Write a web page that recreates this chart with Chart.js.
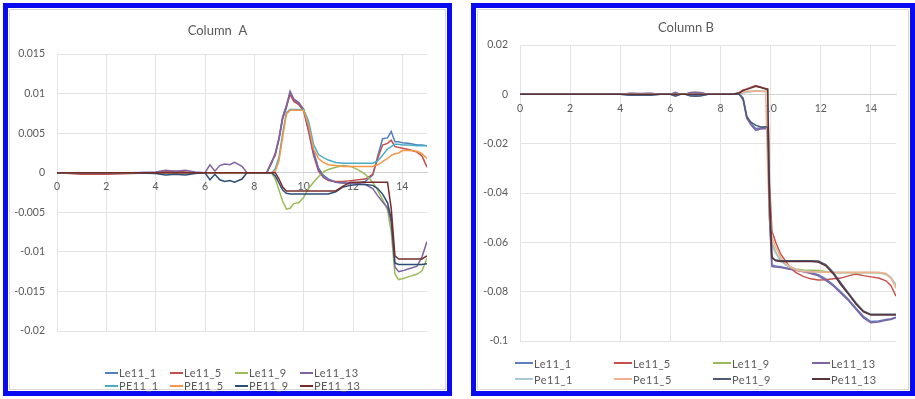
<!DOCTYPE html>
<html>
<head>
<meta charset="utf-8">
<script src="https://cdn.jsdelivr.net/npm/chart.js@4.4.1/dist/chart.umd.min.js"></script>
<style>
  body { margin: 0; background: #fff; width: 915px; height: 399px; overflow: hidden; position: relative; font-family: Lato, "Liberation Sans", sans-serif; }
  .painel { position: absolute; top: 3px; height: 383px; border: 5px solid #0a0af0; background: #fff; }
  #painelA { left: 3px; width: 439px; }
  #painelB { left: 471px; width: 434px; }
  .moldura { position: absolute; left: 1px; top: 1px; right: 1px; bottom: 1px; border: 1px solid #d9d9d9; }
  canvas { position: absolute; left: 0; top: 0; }
  .legenda { position: absolute; display: grid; color: #595959; font-size: 11px; letter-spacing: 0.4px; }
  .item { display: flex; align-items: center; white-space: nowrap; }
  .item span { display: inline-block; height: 2px; margin-right: 1px; }
</style>
</head>
<body>
<div class="painel" id="painelA">
  <div class="moldura"></div>
  <canvas id="chartA" width="438" height="383"></canvas>
  <div class="legenda" id="legendaA" style="left:97px; top:358px; grid-template-columns: repeat(4, 65px); grid-auto-rows: 13px;"></div>
</div>
<div class="painel" id="painelB">
  <div class="moldura"></div>
  <canvas id="chartB" width="434" height="383"></canvas>
  <div class="legenda" id="legendaB" style="left:39px; top:347px; grid-template-columns: repeat(4, 99px); grid-auto-rows: 16px;"></div>
</div>

<script>
// ---- Column A ----
var xA = [0, 1, 2, 3, 4, 4.4, 4.8, 5.2, 5.6, 6.0, 6.2, 6.4, 6.6, 6.8, 7.0, 7.2, 7.5, 7.7, 8.0, 8.5,
  8.7, 8.85, 9.0, 9.15, 9.3, 9.45, 9.6, 9.8, 10.0, 10.2, 10.4, 10.6, 10.8, 11.0, 11.3, 11.6, 11.9, 12.2, 12.5, 12.8,
  13.0, 13.2, 13.4, 13.55, 13.7, 13.85, 14.0, 14.3, 14.6, 14.8, 15.0];

var le11_1A = [0, 0, -0.0001, 0, 0, 0.0001, 0.0001, 0, 0, 0, 0, 0, 0, 0, 0, 0, 0, 0, 0, 0,
  0.0012, 0.0024, 0.0042, 0.0068, 0.0082, 0.0101, 0.0091, 0.0087, 0.0079, 0.0056, 0.0027, 0.0006, -0.0003, -0.0008, -0.0012, -0.0013, -0.0013, -0.0013, -0.0011, -0.0003,
  0.0021, 0.0043, 0.0044, 0.0052, 0.0039, 0.0039, 0.0038, 0.0037, 0.0035, 0.0035, 0.0034];
var le11_5A = [0, -0.0002, -0.0002, -0.0001, 0, 0.0002, 0.0002, 0.0001, 0, 0, 0, 0, 0, 0, 0, 0, 0, 0, 0, 0,
  0.0014, 0.0022, 0.0043, 0.007, 0.0084, 0.0099, 0.009, 0.0086, 0.0078, 0.0052, 0.0022, 0.0002, -0.0006, -0.001, -0.0011, -0.0011, -0.001, -0.0009, -0.0008, -0.0002,
  0.0018, 0.0035, 0.0037, 0.0041, 0.0033, 0.0032, 0.0031, 0.0029, 0.0026, 0.0021, 0.0007];
var le11_9A = [0, 0, 0, 0, 0, 0, 0, 0, 0, 0, 0, 0, 0, 0, 0, 0, 0, 0, 0, 0,
  0, -0.0008, -0.0022, -0.0036, -0.0046, -0.0045, -0.0039, -0.0038, -0.0031, -0.002, -0.0012, -0.0005, 0.0001, 0.0004, 0.0007, 0.0009, 0.0008, 0.0004, -0.0002, -0.0012,
  -0.0022, -0.0034, -0.0047, -0.0075, -0.0128, -0.0135, -0.0134, -0.0131, -0.0128, -0.0124, -0.0108];
var le11_13A = [0, 0, 0, 0, 0.0001, 0.0003, 0.0002, 0.0003, 0.0001, 0, 0.001, 0.0002, 0.0009, 0.0011, 0.001, 0.0013, 0.0008, 0, 0, 0,
  0.0013, 0.0025, 0.0044, 0.0071, 0.0085, 0.0103, 0.0093, 0.0089, 0.008, 0.0054, 0.0025, 0.0004, -0.0005, -0.0009, -0.0012, -0.0013, -0.0014, -0.0014, -0.0015, -0.002,
  -0.0029, -0.0037, -0.0044, -0.0062, -0.0119, -0.0125, -0.0124, -0.0121, -0.0118, -0.0106, -0.0087];
var pe11_1A = [0, 0, 0, 0, 0, 0, 0, 0, 0, 0, 0, 0, 0, 0, 0, 0, 0, 0, 0, 0,
  0, 0.0005, 0.002, 0.005, 0.0076, 0.008, 0.008, 0.008, 0.008, 0.0065, 0.0036, 0.0023, 0.0019, 0.0016, 0.0013, 0.0012, 0.0012, 0.0012, 0.0012, 0.0012,
  0.0015, 0.0022, 0.003, 0.0033, 0.0036, 0.0036, 0.0035, 0.0035, 0.0034, 0.0034, 0.0034];
var pe11_5A = [0, 0, 0, 0, 0, 0, 0, 0, 0, 0, 0, 0, 0, 0, 0, 0, 0, 0, 0, 0,
  0, 0.0002, 0.0015, 0.0045, 0.0074, 0.0079, 0.0079, 0.0079, 0.0079, 0.006, 0.003, 0.0018, 0.0013, 0.001, 0.0009, 0.0008, 0.0008, 0.0008, 0.0008, 0.0008,
  0.001, 0.0014, 0.0018, 0.0022, 0.0024, 0.0025, 0.0028, 0.0028, 0.0027, 0.0024, 0.0018];
var pe11_9A = [0, 0, 0, 0, -0.0001, -0.0003, -0.0002, -0.0003, -0.0001, 0, -0.0009, -0.0002, -0.0009, -0.0011, -0.001, -0.0012, -0.0008, 0, 0, 0,
  0, -0.0004, -0.0013, -0.0022, -0.0026, -0.0027, -0.0027, -0.0027, -0.0027, -0.0027, -0.0027, -0.0027, -0.0027, -0.0027, -0.0024, -0.0018, -0.0016, -0.0015, -0.0015, -0.0016,
  -0.002, -0.0027, -0.0038, -0.0058, -0.0114, -0.0116, -0.0116, -0.0116, -0.0116, -0.0116, -0.0115];
var pe11_13A = [0, 0, 0, 0, 0, 0, 0, 0, 0, 0, 0, 0, 0, 0, 0, 0, 0, 0, 0, 0,
  0, 0, -0.0008, -0.0018, -0.0023, -0.0023, -0.0023, -0.0023, -0.0023, -0.0023, -0.0023, -0.0023, -0.0023, -0.0023, -0.0023, -0.0017, -0.0012, -0.0012, -0.0012, -0.0012,
  -0.0012, -0.0012, -0.0012, -0.0045, -0.0105, -0.0109, -0.0109, -0.0109, -0.0109, -0.0109, -0.0105];

var nomesA = ["Le11_1", "Le11_5", "Le11_9", "Le11_13", "PE11_1", "PE11_5", "PE11_9", "PE11_13"];
var coresA = ["#4f81bd", "#c0504d", "#9bbb59", "#8064a2", "#4bacc6", "#f79646", "#2c4d75", "#772c2a"];
var yTicksA = [-0.02, -0.015, -0.01, -0.005, 0, 0.005, 0.01, 0.015];

// ---- Column B ----
var xB = [0, 1, 2, 3, 4, 4.4, 4.8, 5.2, 5.6, 6.0, 6.2, 6.4, 6.6, 6.8, 7.0, 7.2, 7.5, 8.0, 8.5, 8.75,
  8.9, 9.05, 9.2, 9.4, 9.6, 9.8, 9.88, 9.95, 10.05, 10.2, 10.4, 10.6, 10.8, 11.0, 11.3, 11.6, 11.9, 12.2, 12.5, 12.8,
  13.1, 13.4, 13.7, 14.0, 14.3, 14.6, 14.8, 15.0];

var le11_1B = [0, 0, 0, 0, 0, -0.0003, -0.0002, -0.0003, 0, 0, -0.0005, 0, 0, -0.0005, -0.0006, -0.0005, 0, 0, 0, 0,
  -0.0018, -0.0094, -0.0115, -0.0138, -0.0136, -0.0134, -0.0136, -0.048, -0.0692, -0.0696, -0.0699, -0.0703, -0.0707, -0.0711, -0.0716, -0.0722, -0.0731, -0.0748, -0.0772, -0.0801,
  -0.0831, -0.0866, -0.09, -0.0921, -0.0919, -0.0913, -0.091, -0.0904];
var le11_5B = [0, 0, 0, 0, 0, 0.0003, 0.0002, 0.0003, 0, 0, 0.0006, 0, 0, 0.0006, 0.0007, 0.0005, 0, 0, 0, 0.0008,
  0.0018, 0.0022, 0.0028, 0.0036, 0.003, 0.0024, 0.0022, -0.035, -0.0555, -0.06, -0.0648, -0.0676, -0.0705, -0.0722, -0.0738, -0.0748, -0.0753, -0.0752, -0.0748, -0.0745,
  -0.0736, -0.0728, -0.0735, -0.074, -0.0745, -0.0756, -0.0776, -0.0818];
var le11_9B = [0, 0, 0, 0, 0, 0, 0, 0, 0, 0, 0, 0, 0, 0, 0, 0, 0, 0, 0, 0.0004,
  0.0008, 0.001, 0.0012, 0.0015, 0.0014, 0.0012, 0.0012, -0.042, -0.06, -0.064, -0.0672, -0.069, -0.07, -0.0708, -0.0712, -0.0713, -0.0714, -0.0718, -0.0722, -0.0723,
  -0.0723, -0.0723, -0.0723, -0.0723, -0.0723, -0.0729, -0.0745, -0.0772];
var le11_13B = [0, 0, 0, 0, 0, 0.0004, 0.0003, 0.0004, 0, 0, 0.0008, 0, 0, 0.0007, 0.0008, 0.0007, 0, 0, 0, 0,
  -0.0022, -0.0098, -0.0122, -0.0146, -0.0141, -0.0139, -0.0141, -0.05, -0.0698, -0.07, -0.0702, -0.0706, -0.071, -0.0713, -0.0719, -0.0726, -0.0736, -0.0754, -0.0777, -0.0806,
  -0.0836, -0.0871, -0.0906, -0.0926, -0.0923, -0.0916, -0.0913, -0.0906];
var pe11_1B = [0, 0, 0, 0, 0, 0, 0, 0, 0, 0, 0, 0, 0, 0, 0, 0, 0, 0, 0, 0,
  0.0005, 0.0008, 0.001, 0.0012, 0.0012, 0.0011, 0.001, -0.044, -0.061, -0.0645, -0.0675, -0.0692, -0.0702, -0.071, -0.0715, -0.0718, -0.072, -0.0721, -0.0722, -0.0722,
  -0.0722, -0.0722, -0.0722, -0.0722, -0.0723, -0.0727, -0.0742, -0.0775];
var pe11_5B = [0, 0, 0, 0, 0, 0, 0, 0, 0, 0, 0, 0, 0, 0, 0, 0, 0, 0, 0, 0.0003,
  0.0008, 0.0012, 0.0012, 0.0012, 0.0012, 0.0012, -0.03, -0.05, -0.058, -0.062, -0.066, -0.0685, -0.07, -0.0712, -0.0718, -0.072, -0.072, -0.0721, -0.0721, -0.0721,
  -0.0721, -0.0721, -0.0721, -0.0721, -0.0721, -0.0726, -0.0745, -0.0786];
var pe11_9B = [0, 0, 0, 0, 0, -0.0004, -0.0003, -0.0004, 0, 0, -0.0008, 0, 0, -0.0007, -0.0008, -0.0007, 0, 0, 0, 0,
  -0.0015, -0.009, -0.0112, -0.0125, -0.0132, -0.0131, -0.0134, -0.045, -0.0665, -0.0672, -0.0675, -0.0675, -0.0675, -0.0675, -0.0675, -0.0675, -0.0676, -0.069, -0.0722, -0.0765,
  -0.0805, -0.0845, -0.0878, -0.0892, -0.0892, -0.0892, -0.0892, -0.0892];
var pe11_13B = [0, 0, 0, 0, 0, 0, 0, 0, 0, 0, 0, 0, 0, 0, 0, 0, 0, 0, 0, 0.0005,
  0.0015, 0.002, 0.0025, 0.0033, 0.0028, 0.0022, 0.002, -0.04, -0.066, -0.0675, -0.0678, -0.0678, -0.0678, -0.0678, -0.0678, -0.0678, -0.068, -0.0695, -0.0728, -0.0772,
  -0.081, -0.085, -0.0882, -0.0895, -0.0895, -0.0895, -0.0895, -0.0895];

var nomesB = ["Le11_1", "Le11_5", "Le11_9", "Le11_13", "Pe11_1", "Pe11_5", "Pe11_9", "Pe11_13"];
var coresB = ["#5b7fc0", "#c8504b", "#9bbb59", "#8064a2", "#a9c8d8", "#f4b08e", "#4e5a78", "#5a3338"];
var yTicksB = [-0.1, -0.08, -0.06, -0.04, -0.02, 0, 0.02];

var xTicks = [0, 2, 4, 6, 8, 10, 12, 14];

Chart.defaults.font.family = "Lato, 'Liberation Sans', sans-serif";
Chart.defaults.color = "#595959";

function pontos(xs, ys) {
  var lista = [];
  for (var i = 0; i < xs.length; i++) {
    lista.push({ x: xs[i], y: ys[i] });
  }
  return lista;
}

function formatar(v) {
  return String(+Number(v).toFixed(4));
}

function gerarLegenda(id, nomes, cores, linha) {
  var html = "";
  nomes.forEach(function (nome, i) {
    html += "<div class='item'><span style='width:" + linha + "px;background:" + cores[i] + "'></span>" + nome + "</div>";
  });
  document.getElementById(id).innerHTML = html;
}

function gerarGrafico(id, titulo, tituloPad, xs, series, nomes, cores, yTicks, larguraY, padDir, padBaixo) {
  var datasets = [];
  for (var i = 0; i < series.length; i++) {
    datasets.push({
      label: nomes[i],
      data: pontos(xs, series[i]),
      borderColor: cores[i],
      backgroundColor: cores[i],
      borderWidth: 1.5,
      pointRadius: 0,
      fill: false,
      tension: 0,
      order: series.length - i
    });
  }

  var config = {
    type: "line",
    data: { datasets: datasets },
    options: {
      responsive: false,
      animation: false,
      layout: { padding: { left: 0, right: padDir, top: 0, bottom: padBaixo } },
      plugins: {
        legend: { display: false },
        tooltip: { enabled: false },
        title: {
          display: true,
          text: titulo,
          color: "#595959",
          font: { size: 13, weight: "normal" },
          padding: tituloPad
        }
      },
      scales: {
        x: {
          type: "linear",
          min: 0,
          max: 15,
          position: { y: 0 },
          afterBuildTicks: function (axis) {
            axis.ticks = xTicks.map(function (v) { return { value: v }; });
          },
          grid: { color: "#e3e3e3", drawTicks: false },
          border: { color: "#d0d0d0" },
          ticks: { font: { size: 10.5 }, padding: 8, maxRotation: 0, color: "#595959" }
        },
        y: {
          type: "linear",
          min: yTicks[0],
          max: yTicks[yTicks.length - 1],
          afterBuildTicks: function (axis) {
            axis.ticks = yTicks.map(function (v) { return { value: v }; });
          },
          afterFit: function (scale) { scale.width = larguraY; },
          grid: { color: "#e3e3e3", drawTicks: false },
          border: { display: false },
          ticks: { font: { size: 10.5 }, padding: 12, color: "#595959", callback: formatar }
        }
      }
    }
  };

  return new Chart(document.getElementById(id), config);
}

gerarGrafico("chartA", "Column  A", { top: 15, bottom: 15.4 }, xA,
  [le11_1A, le11_5A, le11_9A, le11_13A, pe11_1A, pe11_5A, pe11_9A, pe11_13A],
  nomesA, coresA, yTicksA, 49, 19, 60);
gerarLegenda("legendaA", nomesA, coresA, 13);

gerarGrafico("chartB", "Column B", { top: 12, bottom: 9.4 }, xB,
  [le11_1B, le11_5B, le11_9B, le11_13B, pe11_1B, pe11_5B, pe11_9B, pe11_13B],
  nomesB, coresB, yTicksB, 44, 14, 50);
gerarLegenda("legendaB", nomesB, coresB, 18);
</script>
</body>
</html>
